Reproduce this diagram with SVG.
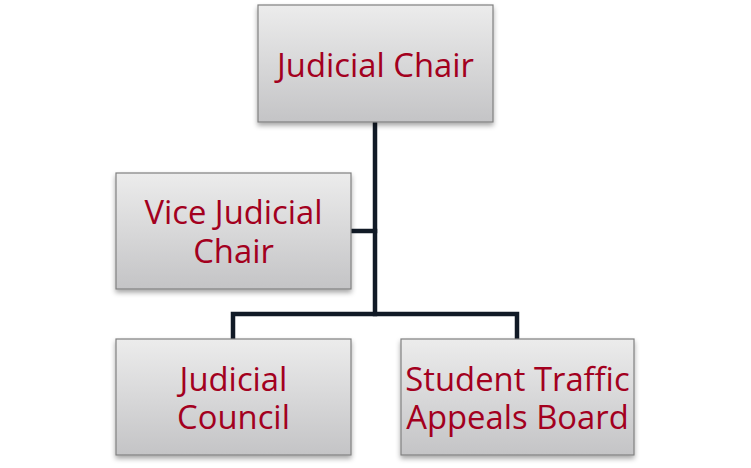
<svg xmlns="http://www.w3.org/2000/svg" width="751" height="468" viewBox="0 0 751 468">
<style>
.box{fill:url(#g);stroke:#808080;stroke-width:1.2;filter:url(#sh)}
.t{font-family:"Open Sans","Liberation Sans",sans-serif;font-size:32.8px;fill:#a3001e;text-anchor:middle}
.c{fill:none;stroke:#111a26;stroke-width:4.5;stroke-linecap:square;stroke-linejoin:miter}
</style>
<defs>
<linearGradient id="g" x1="0" y1="0" x2="0" y2="1">
<stop offset="0" stop-color="#ececec"/>
<stop offset="1" stop-color="#c4c4c6"/>
</linearGradient>
<filter id="sh" x="-10%" y="-10%" width="120%" height="130%">
<feDropShadow dx="0" dy="3" stdDeviation="2.5" flood-color="#000" flood-opacity="0.35"/>
</filter>
</defs>
<g id="connectors">
<path class="c" d="M375,122 V314"/>
<path class="c" d="M351,231 H375"/>
<path class="c" d="M233,339 V314 H517 V339"/>
</g>
<g id="judicial-chair">
<rect class="box" x="258" y="5" width="235" height="117"/>
<text class="t" x="375.5" y="77">Judicial Chair</text>
</g>
<g id="vice-judicial-chair">
<rect class="box" x="116" y="173" width="235" height="116"/>
<text class="t" x="233.5" y="224">Vice Judicial</text>
<text class="t" x="233.5" y="263">Chair</text>
</g>
<g id="judicial-council">
<rect class="box" x="116" y="339" width="235" height="116"/>
<text class="t" x="233.5" y="391">Judicial</text>
<text class="t" x="233.5" y="429">Council</text>
</g>
<g id="student-traffic-appeals-board">
<rect class="box" x="401" y="339" width="233" height="116"/>
<text class="t" x="517.5" y="391">Student Traffic</text>
<text class="t" x="517.5" y="429">Appeals Board</text>
</g>
</svg>
